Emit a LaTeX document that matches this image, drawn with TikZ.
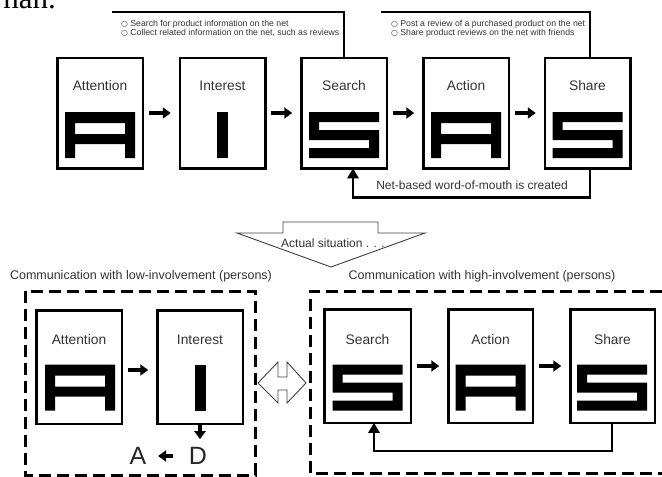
\documentclass[tikz,border=0pt]{standalone}
\usepackage{fontspec}
\setmainfont{Liberation Sans}
\newfontfamily\serifface{Liberation Serif}
\newfontfamily\symface{DejaVu Sans}
\newcommand\bulmark{{\symface\fontsize{7.8}{9}\selectfont ○}}
\usetikzlibrary{arrows.meta}
\tikzset{
  pics/glyphA/.style={code={
    \fill[even odd rule] (-35,-23) -- (35,-23) -- (35,23) -- (25,23) -- (25,9) -- (-25,9) -- (-25,23) -- (-35,23) -- cycle
      (-25,-12) rectangle (25,-1);}},
  pics/glyphI/.style={code={\fill (-5.5,-23) rectangle (5.5,23);}},
  pics/glyphS/.style={code={
    \fill (-35,-23) -- (35,-23) -- (35,-13) -- (-25,-13) -- (-25,-5) -- (35,-5) -- (35,23) -- (-35,23)
      -- (-35,13) -- (25,13) -- (25,5) -- (-35,5) -- cycle;}},
}
\begin{document}
\begin{tikzpicture}[x=1pt,y=-1pt,
  stagebox/.style={draw,line width=2.5pt,minimum width=85.5pt,inner sep=0pt,outer sep=0pt},
  toprow/.style={stagebox,minimum height=110.5pt},
  botrow/.style={stagebox,minimum height=113.5pt},
  lbl/.style={font=\fontsize{13.8}{15}\selectfont,text=black!80,inner sep=0pt},
  note/.style={font=\fontsize{8.7}{10}\selectfont,text=black!80,inner sep=0pt,anchor=west},
  caption/.style={font=\fontsize{12.5}{14}\selectfont,text=black!80,inner sep=0pt},
  arr/.style={line width=3.5pt,-{Triangle[length=8pt,width=11pt]}},
  loopline/.style={line width=2.5pt,-{Triangle[length=10pt,width=11pt]}},
  bracket/.style={line width=2.5pt},
  hollow/.style={draw=black!75,line width=0.9pt,fill=white},
  dashedbox/.style={line width=3pt,dash pattern=on 12pt off 6pt},
  bigletter/.style={font=\fontsize{25}{25}\selectfont,inner sep=0pt,text=black!85},
]
\useasboundingbox (0,0) rectangle (662,477);
\clip (0,0) rectangle (662,477);

% partial text cut at top
\node[font=\serifface\fontsize{31}{31}\selectfont,anchor=base east,inner sep=0pt] (han) at (56,8) {han.};

% ---------- top row ----------
\node[toprow] (ta) at (100,113) {};
\node[toprow] (ti) at (222.5,113) {};
\node[toprow] (tsr) at (344,113) {};
\node[toprow] (tac) at (466,113) {};
\node[toprow] (tsh) at (587.5,113) {};

\node[lbl] (tal) at (100,86) {Attention};
\node[lbl] (til) at (222.5,86) {Interest};
\node[lbl] (tsrl) at (344,86) {Search};
\node[lbl] (tacl) at (466,86) {Action};
\node[lbl] (tshl) at (587.5,86) {Share};

\pic at (100,135) {glyphA};
\pic at (222.5,135) {glyphI};
\pic at (344,135) {glyphS};
\pic at (466,135) {glyphA};
\pic at (587.5,135) {glyphS};

\draw[arr,shorten <=6pt,shorten >=9pt] (ta) -- (ti);
\draw[arr,shorten <=6pt,shorten >=9pt] (ti) -- (tsr);
\draw[arr,shorten <=6pt,shorten >=9pt] (tsr) -- (tac);
\draw[arr,shorten <=6pt,shorten >=9pt] (tac) -- (tsh);

\draw[loopline] ([xshift=2.5pt]tsh.south) -- ++(0,29) -| ([xshift=9pt]tsr.south);
\node[caption,font=\fontsize{12}{14}\selectfont] (wom) at (472,185) {Net-based word-of-mouth is created};

% brackets with notes
\coordinate (b1) at (112,12);
\coordinate (b2) at (381,12);
\draw[bracket] (b1) -| (tsr.north);
\draw[bracket] (b2) -| ([xshift=2.5pt]tsh.north);
\node[note] (n1) at (121,24) {\bulmark{} Search for product information on the net};
\node[note] (n2) at (121,33) {\bulmark{} Collect related information on the net, such as reviews};
\node[note] (n3) at (391,24) {\bulmark{} Post a review of a purchased product on the net};
\node[note] (n4) at (391,33) {\bulmark{} Share product reviews on the net with friends};

% ---------- actual situation arrow ----------
\draw[hollow] (283,222) -- (378,222) -- (378,233) -- (425,233) -- (331,267) -- (237,233) -- (283,233) -- cycle;
\node[caption,font=\fontsize{12}{14}\selectfont] (actual) at (333,243) {Actual situation . . .};

% ---------- captions of lower groups ----------
\node[caption] (lowcap) at (141,276) {Communication with low-involvement (persons)};
\node[caption] (highcap) at (482,276) {Communication with high-involvement (persons)};

% dashed groups
\draw[dashedbox] (25,291) rectangle (255,475);
\draw[dashedbox] (680,291) -- (310,291) -- (310,473) -- (680,473);

% ---------- bottom row ----------
\node[botrow] (ba) at (79,367) {};
\node[botrow] (bi) at (200,367) {};
\node[botrow,minimum width=86.5pt] (bsr) at (367.5,366) {};
\node[botrow,minimum width=84.5pt] (bac) at (490.5,366) {};
\node[botrow,minimum width=84.5pt] (bsh) at (612.5,366) {};

\node[lbl] (bal) at (79,340) {Attention};
\node[lbl] (bil) at (200,340) {Interest};
\node[lbl] (bsrl) at (367.5,340) {Search};
\node[lbl] (bacl) at (490.5,340) {Action};
\node[lbl] (bshl) at (612.5,340) {Share};

\pic at (80,387.5) {glyphA};
\pic at (200,387.5) {glyphI};
\pic at (367.5,387.5) {glyphS};
\pic at (490.5,387.5) {glyphA};
\pic at (612,387.5) {glyphS};

\draw[arr,shorten <=6pt,shorten >=9pt] ([yshift=-3pt]ba.east) -- ([yshift=-3pt]bi.west);
\draw[arr,shorten <=6pt,shorten >=9pt] (bsr) -- (bac);
\draw[arr,shorten <=6pt,shorten >=9pt] (bac) -- (bsh);

\draw[loopline] ([xshift=-0.5pt]bsh.south) -- ++(0,28) -| ([xshift=6.5pt]bsr.south);

% D and A
\node[bigletter] (D) at (198,456) {D};
\node[bigletter] (A) at (138,456) {A};
\draw[arr,shorten >=8pt] (bi.south) -- (bi.south |- D.north);
\draw[arr,shorten <=16pt,shorten >=11.5pt] (D) -- (A);

% double hollow arrow
\draw[hollow] (258,383) -- (278,362) -- (278,377) -- (287,377) -- (287,362) -- (306,383)
  -- (287,403) -- (287,390) -- (278,390) -- (278,403) -- cycle;
\end{tikzpicture}
\end{document}
